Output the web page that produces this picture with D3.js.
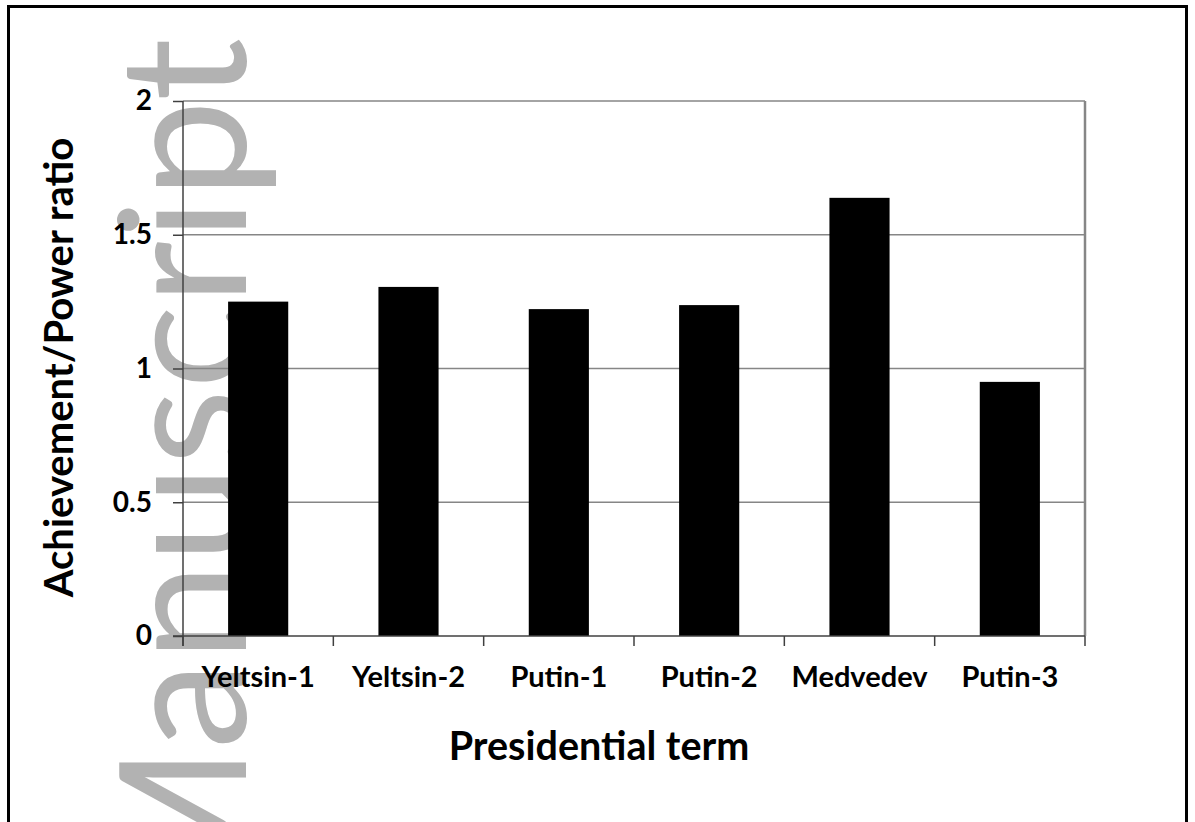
<!DOCTYPE html>
<html>
<head>
<meta charset="utf-8">
<script src="https://cdn.jsdelivr.net/npm/d3@7"></script>
<style>
  body { margin: 0; background: #fff; }
  text { font-family: Lato, "Open Sans", sans-serif; }
</style>
</head>
<body>
  <script>
    const terms = ["Yeltsin-1", "Yeltsin-2", "Putin-1", "Putin-2", "Medvedev", "Putin-3"];
    const ratios = [1.25, 1.305, 1.222, 1.237, 1.638, 0.95];
    const yTicks = [0, 0.5, 1, 1.5, 2];

    const w = 1195;
    const h = 822;
    const margin = {top: 101, right: 110, bottom: 186, left: 183};

    const svg = d3.select("body")
                  .append("svg")
                  .attr("width", w)
                  .attr("height", h);

    // outer frame (bottom edge runs off the page)
    svg.append("rect")
       .attr("x", 8.5).attr("y", 6.5)
       .attr("width", 1178).attr("height", 840)
       .attr("fill", "none")
       .attr("stroke", "#000")
       .attr("stroke-width", 3);

    // watermark behind the chart
    svg.append("text")
       .attr("transform", "translate(246,38) rotate(-90)")
       .attr("text-anchor", "end")
       .attr("font-size", 176)
       .attr("fill", "#b2b2b2")
       .text("Manuscript");

    const xScale = d3.scaleBand()
                     .domain(terms)
                     .range([margin.left, w - margin.right])
                     .paddingInner(0.6)
                     .paddingOuter(0.3);

    const yScale = d3.scaleLinear()
                     .domain([0, 2])
                     .range([h - margin.bottom, margin.top]);

    const x0 = margin.left;
    const x1 = w - margin.right;
    const step = xScale.step();

    // y axis ticks + labels
    const yAxis = svg.append("g")
       .attr("transform", `translate(${x0},0)`)
       .call(d3.axisLeft(yScale)
               .tickValues(yTicks)
               .tickSize(10)
               .tickPadding(21)
               .tickFormat(d => d));
    yAxis.select(".domain").remove();
    yAxis.selectAll(".tick line").attr("stroke", "#404040").attr("stroke-width", 1.5);
    yAxis.selectAll(".tick text")
         .attr("font-size", 28)
         .attr("font-weight", "bold")
         .attr("fill", "#000");

    // gridlines
    svg.append("g")
       .selectAll("line")
       .data(yTicks.filter(d => d > 0))
       .enter()
       .append("line")
       .attr("x1", x0).attr("x2", x1)
       .attr("y1", d => yScale(d)).attr("y2", d => yScale(d))
       .attr("stroke", "#868686")
       .attr("stroke-width", 1.5);

    // right edge of plot area
    svg.append("line")
       .attr("x1", x1).attr("x2", x1)
       .attr("y1", yScale(2)).attr("y2", yScale(0))
       .attr("stroke", "#868686")
       .attr("stroke-width", 2.5);

    // bars
    svg.selectAll("rect.bar")
       .data(ratios)
       .enter()
       .append("rect")
       .attr("class", "bar")
       .attr("x", (d, i) => xScale(terms[i]))
       .attr("y", d => yScale(d))
       .attr("width", xScale.bandwidth())
       .attr("height", d => yScale(0) - yScale(d))
       .attr("fill", "#000");

    // vertical axis line
    svg.append("line")
       .attr("x1", x0).attr("x2", x0)
       .attr("y1", yScale(2)).attr("y2", yScale(0) + 10)
       .attr("stroke", "#404040")
       .attr("stroke-width", 1.5);

    // horizontal axis line + category ticks
    svg.append("line")
       .attr("x1", x0 - 10).attr("x2", x1)
       .attr("y1", yScale(0)).attr("y2", yScale(0))
       .attr("stroke", "#404040")
       .attr("stroke-width", 1.5);

    svg.append("g")
       .selectAll("line")
       .data(d3.range(terms.length + 1))
       .enter()
       .append("line")
       .attr("x1", i => x0 + i * step).attr("x2", i => x0 + i * step)
       .attr("y1", yScale(0)).attr("y2", yScale(0) + 10)
       .attr("stroke", "#404040")
       .attr("stroke-width", 1.5);

    // category labels
    svg.append("g")
       .selectAll("text")
       .data(terms)
       .enter()
       .append("text")
       .attr("x", d => xScale(d) + xScale.bandwidth() / 2)
       .attr("y", yScale(0) + 51)
       .attr("text-anchor", "middle")
       .attr("font-size", 29)
       .attr("font-weight", "bold")
       .text(d => d);

    // axis titles
    svg.append("text")
       .attr("x", 599)
       .attr("y", 760)
       .attr("text-anchor", "middle")
       .attr("font-size", 39.5)
       .attr("font-weight", "bold")
       .text("Presidential term");

    svg.append("text")
       .attr("transform", `translate(73,${(yScale(0) + yScale(2)) / 2 - 1}) rotate(-90)`)
       .attr("text-anchor", "middle")
       .attr("font-size", 40)
       .attr("font-weight", "bold")
       .text("Achievement/Power ratio");
  </script>
</body>
</html>
